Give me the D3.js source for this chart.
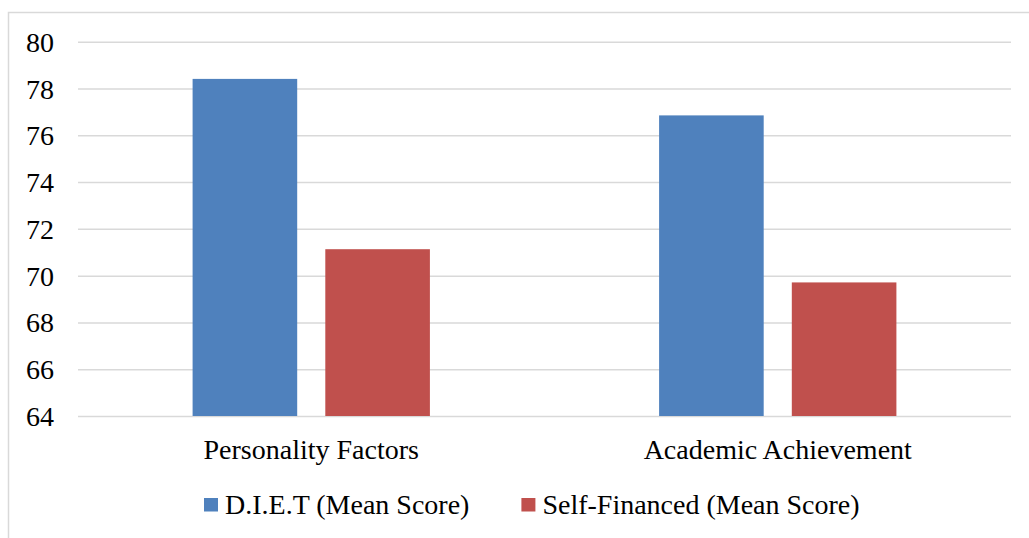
<!DOCTYPE html>
<html>
<head>
<meta charset="utf-8">
<script src="https://cdn.jsdelivr.net/npm/d3@7"></script>
</head>
<body style="margin:0;background:#fff">
<svg id="fig" width="1029" height="538" style="display:block"></svg>
<script>
// Mean scores for the two groups on each measure
const categories = ["Personality Factors", "Academic Achievement"];
const seriesNames = ["D.I.E.T (Mean Score)", "Self-Financed (Mean Score)"];
const dietScores = [78.41, 76.85];
const selfFinancedScores = [71.13, 69.71];
const yTicks = [64, 66, 68, 70, 72, 74, 76, 78, 80];
const seriesColors = ["#4f81bd", "#c0504d"];

const svg = d3.select("#fig");
const W = 1029, H = 538;

// chart frame (open to the right and bottom)
svg.append("path")
  .attr("d", `M8.5,${H + 2}V12.5H${W + 2}`)
  .attr("fill", "none")
  .attr("stroke", "#d9d9d9")
  .attr("stroke-width", 1.5);

const plot = { left: 78, right: 1011, top: 41.7, bottom: 416 };

const x = d3.scaleBand()
  .domain(categories)
  .range([plot.left, plot.right])
  .paddingInner(0.4913)
  .paddingOuter(0.4913 / 2);

const xs = d3.scaleBand()
  .domain(seriesNames)
  .range([0, x.bandwidth()])
  .paddingInner(0.2118)
  .paddingOuter(0);

const y = d3.scaleLinear()
  .domain([64, 80])
  .range([plot.bottom, plot.top]);

// serif labels in the Times style
function styleText(sel) {
  sel.attr("font-family", "Liberation Serif")
    .attr("font-size", 28)
    .attr("fill", "#000")
    .style("font-family", "'Liberation Serif'", "important")
    .style("font-size", "28px", "important");
}

// horizontal gridlines (the 64 line doubles as the baseline)
const yAxis = d3.axisLeft(y)
  .tickValues(yTicks)
  .tickSize(-(plot.right - plot.left))
  .tickPadding(24)
  .tickFormat(d3.format("d"));

const gy = svg.append("g")
  .attr("transform", `translate(${plot.left},0)`)
  .call(yAxis)
  .attr("font-family", "Liberation Serif");
gy.select(".domain").remove();
gy.selectAll(".tick line")
  .attr("stroke", "#d9d9d9")
  .attr("stroke-width", 1.5);
gy.selectAll(".tick text")
  .call(styleText)
  .attr("dy", "0.34em");

// bars
const rows = categories.map((c, i) => ({
  category: c,
  values: [dietScores[i], selfFinancedScores[i]]
}));

const groups = svg.append("g").selectAll("g")
  .data(rows)
  .join("g")
  .attr("transform", d => `translate(${x(d.category)},0)`);

groups.selectAll("rect")
  .data(d => d.values.map((v, j) => ({ series: seriesNames[j], value: v, j })))
  .join("rect")
  .attr("x", d => xs(d.series))
  .attr("width", xs.bandwidth())
  .attr("y", d => y(d.value))
  .attr("height", d => y(64) - y(d.value))
  .attr("fill", d => seriesColors[d.j]);

// category labels
const xAxis = d3.axisBottom(x).tickSize(0).tickPadding(0);
const gx = svg.append("g")
  .attr("transform", `translate(0,${plot.bottom})`)
  .call(xAxis)
  .attr("font-family", "Liberation Serif");
gx.select(".domain").remove();
gx.selectAll(".tick text")
  .call(styleText)
  .attr("y", 43)
  .attr("dy", 0);

// legend
const legend = svg.append("g").attr("transform", "translate(0,514)");
let lx = 204;
seriesNames.forEach((name, i) => {
  legend.append("rect")
    .attr("x", lx)
    .attr("y", -16)
    .attr("width", 14)
    .attr("height", 13.5)
    .attr("fill", seriesColors[i]);
  const t = legend.append("text")
    .attr("x", lx + 21)
    .attr("y", 0)
    .call(styleText)
    .text(name);
  lx += 21 + t.node().getComputedTextLength() + 52;
});
</script>
</body>
</html>
